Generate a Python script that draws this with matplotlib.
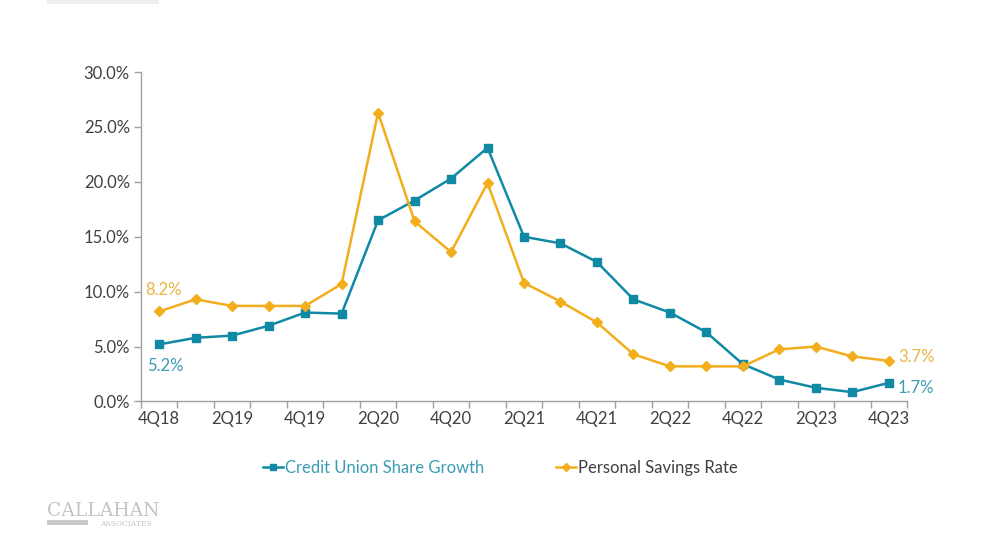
import matplotlib
matplotlib.use("Agg")
import matplotlib.pyplot as plt
from matplotlib.patches import Rectangle

quarters = ["4Q18", "1Q19", "2Q19", "3Q19", "4Q19", "1Q20", "2Q20", "3Q20", "4Q20",
            "1Q21", "2Q21", "3Q21", "4Q21", "1Q22", "2Q22", "3Q22", "4Q22",
            "1Q23", "2Q23", "3Q23", "4Q23"]
share_growth = [5.2, 5.8, 6.0, 6.9, 8.1, 8.0, 16.5, 18.3, 20.3, 23.1, 15.0, 14.4,
                12.7, 9.3, 8.1, 6.3, 3.4, 2.0, 1.25, 0.85, 1.7]
savings_rate = [8.2, 9.3, 8.7, 8.7, 8.7, 10.7, 26.3, 16.4, 13.6, 19.9, 10.8, 9.1,
                7.2, 4.3, 3.2, 3.2, 3.2, 4.75, 5.0, 4.1, 3.7]
yticks = [0, 5, 10, 15, 20, 25, 30]

teal = "#1089A5"
gold = "#F2AE1C"
teal_txt = "#3B9DB3"
gold_txt = "#E9B648"
grey = "#404040"
fs = 12

plt.rcParams["font.family"] = ["Lato", "DejaVu Sans"]

fig = plt.figure(figsize=(10, 5.43), dpi=100)
ax = fig.add_axes([0.141, 0.2606, 0.766, 0.6068])

x = list(range(len(quarters)))
ax.plot(x, share_growth, "-s", color=teal, lw=1.8, ms=5.5, label="Credit Union Share Growth")
ax.plot(x, savings_rate, "-D", color=gold, lw=1.8, ms=5.5, label="Personal Savings Rate")

ax.set_xlim(-0.5, len(quarters) - 0.5)
ax.set_ylim(0, 30)
ax.set_yticks(yticks)
ax.set_yticklabels(["%.1f%%" % v for v in yticks], fontsize=fs, color=grey)
ax.set_xticks([i + 0.5 for i in range(-1, len(quarters))])
ax.set_xticklabels([])
ax.set_xticks(x[::2], minor=True)
ax.set_xticklabels(quarters[::2], minor=True, fontsize=fs, color=grey)
ax.tick_params(axis="x", which="major", length=5, color="#A0A0A0", width=1)
ax.tick_params(axis="x", which="minor", length=0, pad=7)
ax.tick_params(axis="y", length=5, color="#A0A0A0", width=1, pad=3)
for s in ["top", "right"]:
    ax.spines[s].set_visible(False)
for s in ["left", "bottom"]:
    ax.spines[s].set_color("#A0A0A0")
    ax.spines[s].set_linewidth(1)

# end labels
ax.annotate("%.1f%%" % savings_rate[0], (0, savings_rate[0]), xytext=(-10, 12),
            textcoords="offset points", color=gold_txt, fontsize=fs)
ax.annotate("%.1f%%" % share_growth[0], (0, share_growth[0]), xytext=(-9, -19),
            textcoords="offset points", color=teal_txt, fontsize=fs)
ax.annotate("%.1f%%" % savings_rate[-1], (x[-1], savings_rate[-1]), xytext=(7, -1),
            textcoords="offset points", color=gold_txt, fontsize=fs)
ax.annotate("%.1f%%" % share_growth[-1], (x[-1], share_growth[-1]), xytext=(6, -7),
            textcoords="offset points", color=teal_txt, fontsize=fs)

leg = ax.legend(loc="center", bbox_to_anchor=(0.469, -0.202), ncol=2, frameon=False,
                fontsize=fs, handlelength=1.2, handletextpad=0.1, columnspacing=4.3,
                markerscale=0.8)
leg.get_texts()[0].set_color(teal_txt)
leg.get_texts()[1].set_color(grey)

# logo
fig.text(0.047, 0.050, "CALLAHAN", family="DejaVu Serif", fontsize=13.5, color="#C4C4C4")
fig.add_artist(Rectangle((0.047, 0.033), 0.041, 0.01, transform=fig.transFigure,
                         color="#C8C8C8", lw=0))
fig.text(0.100, 0.032, "ASSOCIATES", family="DejaVu Serif", fontsize=5.5, color="#C4C4C4")
fig.add_artist(Rectangle((0.047, 0.993), 0.112, 0.007, transform=fig.transFigure,
                         color="#EEEEEE", lw=0))

fig.savefig("out.png", dpi=100)
